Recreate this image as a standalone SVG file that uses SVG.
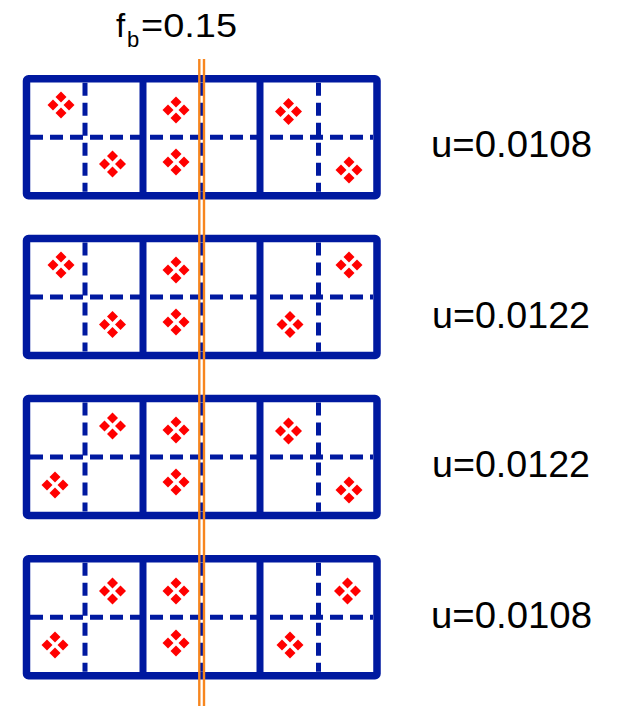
<svg xmlns="http://www.w3.org/2000/svg" xmlns:xlink="http://www.w3.org/1999/xlink" width="617" height="706" viewBox="0 0 617 706">
<style>
.frame{fill:none;stroke:#0019A0;stroke-width:7.5;stroke-linejoin:round}
.div{stroke:#0019A0;stroke-width:7}
.dash{stroke:#0019A0;stroke-width:5;stroke-dasharray:13 7;fill:none}
.lbl{font-family:"Liberation Sans",Arial,sans-serif;font-size:36px;fill:#000}
.orange{stroke:#F7861E;stroke-width:2.4}
</style>
<defs>
<g id="cl" fill="#FF0000">
<polygon points="0,-13.5 5.5,-8 0,-2.5 -5.5,-8"/>
<polygon points="0,2.5 5.5,8 0,13.5 -5.5,8"/>
<polygon points="-8,-5.5 -2.5,0 -8,5.5 -13.5,0"/>
<polygon points="8,-5.5 13.5,0 8,5.5 2.5,0"/>
</g>
<g id="grid">
<line class="dash" x1="30" y1="58.5" x2="373" y2="58.5"/>
<line class="dash" x1="85" y1="4" x2="85" y2="113"/>
<line class="dash" x1="201.5" y1="4" x2="201.5" y2="113"/>
<line class="dash" x1="318.5" y1="4" x2="318.5" y2="113"/>
<rect class="frame" x="26.5" y="0" width="350.5" height="117" rx="2"/>
<line class="div" x1="143" y1="0" x2="143" y2="117"/>
<line class="div" x1="260" y1="0" x2="260" y2="117"/>
</g>
</defs>
<rect width="617" height="706" fill="#fff"/>
<g id="row1">
<use xlink:href="#grid" href="#grid" y="78.7"/>
<use href="#cl" x="61" y="105"/>
<use href="#cl" x="112.5" y="164"/>
<use href="#cl" x="176" y="110"/>
<use href="#cl" x="176" y="162"/>
<use href="#cl" x="288.5" y="111.5"/>
<use href="#cl" x="349" y="170"/>
<text class="lbl" x="431" y="157" textLength="161" lengthAdjust="spacingAndGlyphs">u=0.0108</text>
</g>
<g id="row2">
<use href="#grid" y="238.5"/>
<use href="#cl" x="61" y="265"/>
<use href="#cl" x="112.5" y="324.5"/>
<use href="#cl" x="176" y="270"/>
<use href="#cl" x="176" y="322"/>
<use href="#cl" x="349" y="265"/>
<use href="#cl" x="290" y="324.5"/>
<text class="lbl" x="432" y="328" textLength="158" lengthAdjust="spacingAndGlyphs">u=0.0122</text>
</g>
<g id="row3">
<use href="#grid" y="398.5"/>
<use href="#cl" x="112.5" y="426"/>
<use href="#cl" x="55" y="485"/>
<use href="#cl" x="176" y="430"/>
<use href="#cl" x="176" y="482"/>
<use href="#cl" x="288.5" y="431"/>
<use href="#cl" x="349" y="490"/>
<text class="lbl" x="432" y="477" textLength="158" lengthAdjust="spacingAndGlyphs">u=0.0122</text>
</g>
<g id="row4">
<use href="#grid" y="558.8"/>
<use href="#cl" x="112.5" y="591"/>
<use href="#cl" x="55" y="645"/>
<use href="#cl" x="176" y="591"/>
<use href="#cl" x="176" y="643"/>
<use href="#cl" x="347.5" y="591"/>
<use href="#cl" x="290" y="645"/>
<text class="lbl" x="431" y="628" textLength="161" lengthAdjust="spacingAndGlyphs">u=0.0108</text>
</g>
<g id="connectors">
<line class="orange" x1="199.3" y1="59" x2="199.3" y2="706"/>
<line class="orange" x1="204" y1="59" x2="204" y2="706"/>
</g>
<g id="fb-label">
<text class="lbl" x="116" y="37" style="font-size:33px">f<tspan x="127" y="47" style="font-size:22px">b</tspan><tspan x="141" y="37" style="font-size:33px" textLength="96" lengthAdjust="spacingAndGlyphs">=0.15</tspan></text>
</g>
</svg>
